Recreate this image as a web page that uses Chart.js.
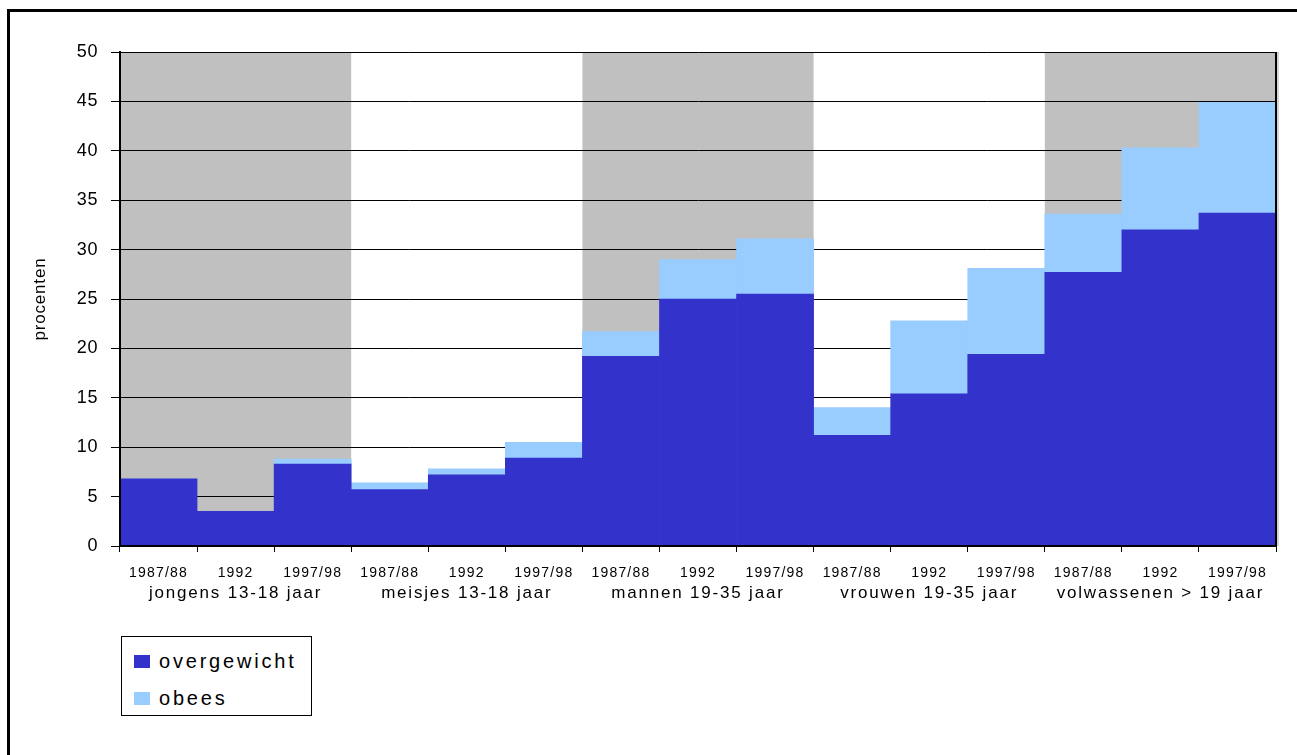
<!DOCTYPE html>
<html>
<head>
<meta charset="utf-8">
<script src="https://cdn.jsdelivr.net/npm/chart.js@4/dist/chart.umd.min.js"></script>
<style>
  html, body { margin: 0; padding: 0; background: #fff; overflow: hidden; }
  #wrap { position: relative; width: 1297px; height: 755px; }
  #frame { position: absolute; left: 7px; top: 9px; width: 1400px; height: 900px;
           border-left: 3px solid #000; border-top: 3px solid #000; box-sizing: border-box; }
  canvas { position: absolute; left: 0; top: 0; }
  #legend { position: absolute; left: 121px; top: 636px; width: 191px; height: 80px;
            border: 1px solid #000; box-sizing: border-box; background: #fff;
            font-family: 'Liberation Sans', Arial, sans-serif; font-size: 20px;
            letter-spacing: 2.8px; color: #000; }
  #legend .item { position: absolute; left: 12px; height: 24px; display: flex; align-items: center; }
  #legend .swatch { width: 16px; height: 13px; margin-right: 9px; }
</style>
</head>
<body>
<div id="wrap">
  <canvas id="chart" width="1297" height="755"></canvas>
  <div id="frame"></div>
  <div id="legend"></div>
</div>
<script>
// Share of Dutch population with overweight / obesity, by group and survey period
const periods = ['1987/88', '1992', '1997/98', '1987/88', '1992', '1997/98',
                 '1987/88', '1992', '1997/98', '1987/88', '1992', '1997/98',
                 '1987/88', '1992', '1997/98'];
const groups = ['jongens 13-18 jaar', 'meisjes 13-18 jaar', 'mannen 19-35 jaar',
                'vrouwen 19-35 jaar', 'volwassenen > 19 jaar'];
const overgewicht = [6.8, 3.5, 8.3, 5.7, 7.2, 8.9, 19.2, 25.0, 25.5, 11.2, 15.4, 19.4, 27.7, 32.0, 33.7];
const obees = [0, 0, 0.5, 0.7, 0.6, 1.6, 2.5, 4.0, 5.6, 2.8, 7.4, 8.7, 5.9, 8.3, 11.2];
const shadedGroups = [0, 2, 4];
const yTicks = [0, 5, 10, 15, 20, 25, 30, 35, 40, 45, 50];

const FONT = "'Liberation Sans', Arial, sans-serif";
const periodsPerGroup = periods.length / groups.length;

// Draw an axis's labels / title with extra letter spacing
function spaceText(axis, labelSpacing, titleSpacing) {
  if (axis.$spaced) return;
  axis.$spaced = true;
  const wrap = (fn, px) => {
    const orig = axis[fn];
    axis[fn] = function (...args) {
      const ctx = this.ctx;
      const prev = ctx.letterSpacing;
      ctx.letterSpacing = px + 'px';
      orig.apply(this, args);
      ctx.letterSpacing = prev;
    };
  };
  wrap('drawLabels', labelSpacing);
  wrap('drawTitle', titleSpacing);
}

// Grey bands behind the alternating groups, under the grid lines
const groupBands = {
  id: 'groupBands',
  beforeDraw(chart) {
    const { ctx, chartArea, scales } = chart;
    const x = scales.x;
    const half = (x.getPixelForValue(1) - x.getPixelForValue(0)) / 2;
    ctx.save();
    ctx.fillStyle = '#c0c0c0';
    shadedGroups.forEach(g => {
      const first = g * periodsPerGroup;
      const last = first + periodsPerGroup - 1;
      const l = x.getPixelForValue(first) - half;
      const r = x.getPixelForValue(last) + half;
      ctx.fillRect(l, chartArea.top, r - l, chartArea.bottom - chartArea.top);
    });
    ctx.restore();
  },
  afterDraw(chart) {
    const { ctx, chartArea } = chart;
    ctx.save();
    ctx.strokeStyle = '#d4d4d4';
    ctx.lineWidth = 2;
    ctx.beginPath();
    ctx.moveTo(chartArea.right + 2, chartArea.top);
    ctx.lineTo(chartArea.right + 2, chartArea.bottom);
    ctx.stroke();
    ctx.strokeStyle = '#000';
    ctx.lineWidth = 2;
    ctx.beginPath();
    ctx.moveTo(chartArea.right, chartArea.top);
    ctx.lineTo(chartArea.right, chartArea.bottom);
    ctx.stroke();
    ctx.restore();
  }
};

const chart = new Chart(document.getElementById('chart'), {
  type: 'bar',
  data: {
    labels: periods,
    datasets: [
      { label: 'overgewicht', data: overgewicht, backgroundColor: '#3333cc' },
      { label: 'obees', data: obees, backgroundColor: '#99ccff' }
    ]
  },
  plugins: [groupBands],
  options: {
    responsive: false,
    animation: false,
    devicePixelRatio: 1,
    datasets: { bar: { barPercentage: 1, categoryPercentage: 1, borderWidth: 0 } },
    layout: { padding: { left: 0, top: 52, right: 21, bottom: 149 } },
    plugins: { legend: { display: false }, tooltip: { enabled: false } },
    scales: {
      x: {
        stacked: true,
        position: 'bottom',
        offset: true,
        grid: { offset: true, drawOnChartArea: false, drawTicks: true, tickLength: 6, color: '#000', lineWidth: 1 },
        border: { color: '#000', width: 2, z: 1 },
        ticks: { color: '#000', font: { family: FONT, size: 14 }, padding: 13, maxRotation: 0, autoSkip: false },
        afterFit(axis) { axis.height = 37; spaceText(axis, 1.2, 0); }
      },
      groups: {
        type: 'category',
        labels: groups,
        position: 'bottom',
        offset: true,
        grid: { display: false, drawTicks: false },
        border: { display: false },
        ticks: { color: '#000', font: { family: FONT, size: 17 }, padding: 0, maxRotation: 0, autoSkip: false },
        afterFit(axis) { axis.height = 23; spaceText(axis, 1.8, 0); }
      },
      y: {
        stacked: true,
        min: 0,
        max: 50,
        afterBuildTicks(axis) { axis.ticks = yTicks.map(v => ({ value: v })); },
        grid: { color: '#000', lineWidth: 1, tickLength: 9, drawTicks: true },
        border: { color: '#000', width: 2, z: 1 },
        ticks: { color: '#000', font: { family: FONT, size: 18 }, padding: 13 },
        title: { display: true, text: 'procenten', color: '#000',
                 font: { family: FONT, size: 17 }, padding: { top: 30, bottom: 0 } },
        afterFit(axis) { axis.width = 120; spaceText(axis, 0.6, 0.8); }
      }
    }
  }
});

// Legend box built from the chart's own datasets
const legendEl = document.getElementById('legend');
chart.data.datasets.forEach((ds, i) => {
  const item = document.createElement('div');
  item.className = 'item';
  item.style.top = (12 + i * 37) + 'px';
  const sw = document.createElement('span');
  sw.className = 'swatch';
  sw.style.background = ds.backgroundColor;
  const txt = document.createElement('span');
  txt.textContent = ds.label;
  item.appendChild(sw);
  item.appendChild(txt);
  legendEl.appendChild(item);
});
</script>
</body>
</html>
